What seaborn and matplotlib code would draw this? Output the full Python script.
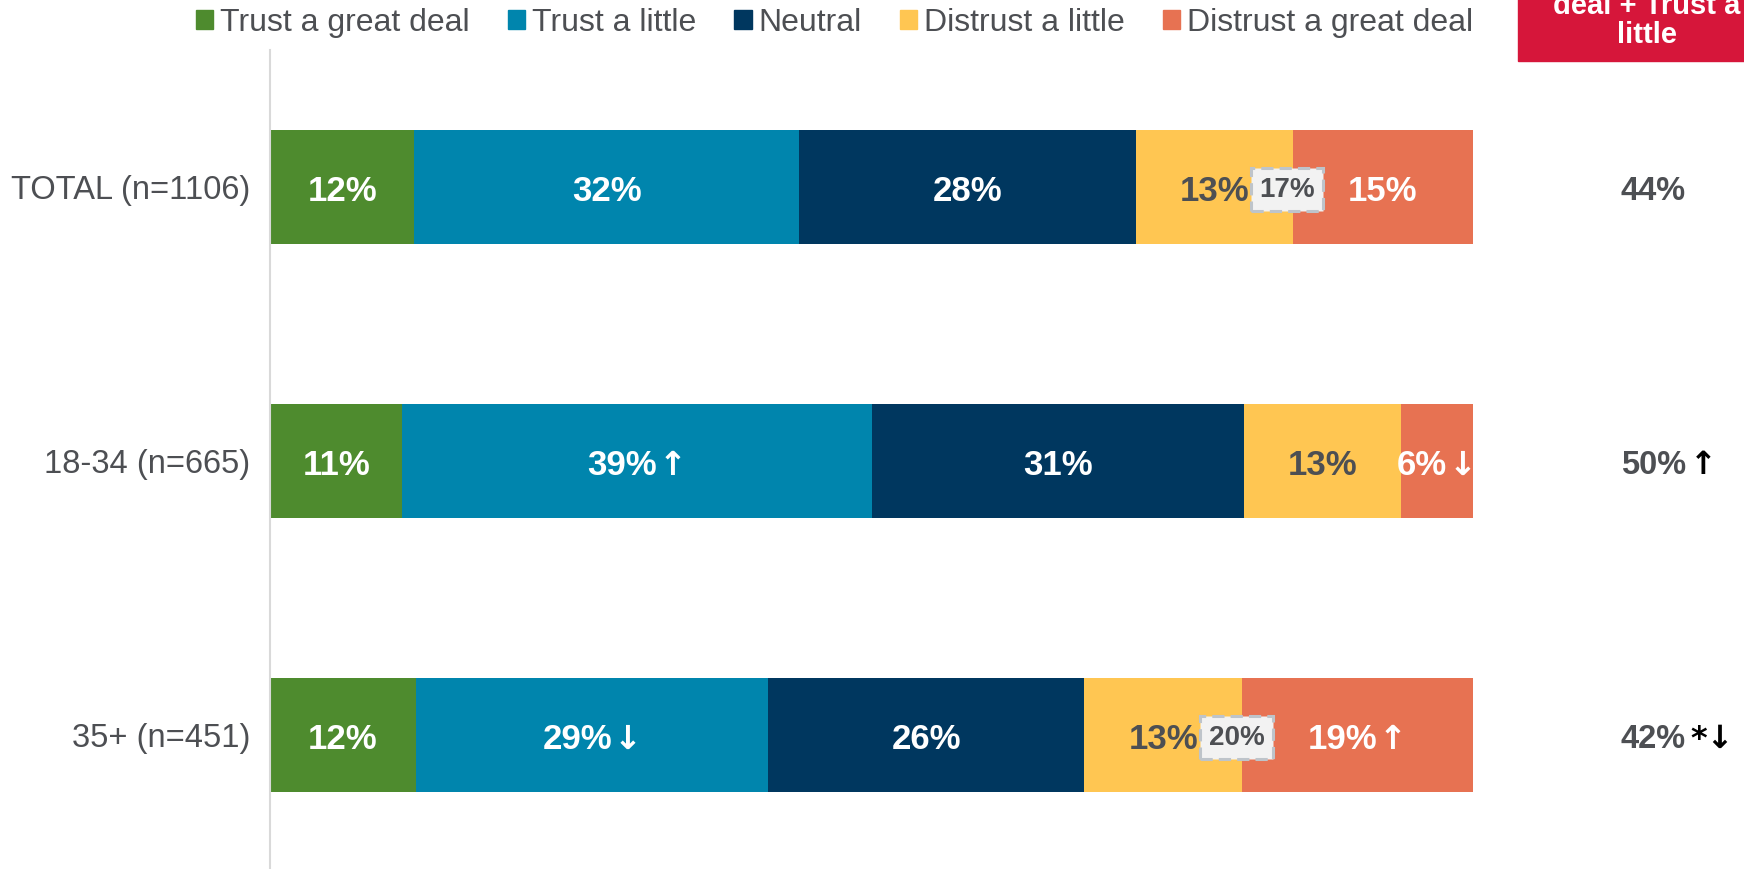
import matplotlib
matplotlib.use("Agg")
import matplotlib.pyplot as plt
from matplotlib.patches import Rectangle
from matplotlib.offsetbox import TextArea, HPacker, AnnotationBbox
import numpy as np
import pandas as pd
import seaborn as sns

# ---- data -------------------------------------------------------------
groups = ["TOTAL (n=1106)", "18-34 (n=665)", "35+ (n=451)"]
series = ["Trust a great deal", "Trust a little", "Neutral",
          "Distrust a little", "Distrust a great deal"]
trust_great = [12, 11, 12.1]
trust_little = [32, 39, 29.3]
neutral = [28, 31, 26.3]
distrust_little = [13, 13, 13.1]
distrust_great = [15, 6, 19.2]

# significance arrows attached to segment labels
trust_little_sig = ["", "↑", "↓"]
distrust_great_sig = ["", "↓", "↑"]

# dashed call-out figures at the distrust boundary
distrust_callout = ["17%", None, "20%"]

# net trust column (Trust a great deal + Trust a little)
net_trust = [44, 50, 42]
net_sig = ["", "↑", "*↓"]

colors = ["#4E8B2E", "#0085AD", "#00375F", "#FFC652", "#E77252"]
label_colors = ["white", "white", "white", "#4D4F53", "white"]
GRAY = "#4D4F53"

# ---- style ------------------------------------------------------------
sns.set_style("white")
FAM = ["Liberation Sans", "DejaVu Sans"]
plt.rcParams["font.family"] = FAM
DY = -3  # points: nudge labels so the digits sit visually centred

W, H = 1744, 869
fig = plt.figure(figsize=(W / 100, H / 100), dpi=100)
ax = fig.add_axes([270 / W, -0.0035, 1203 / W, 0.9459])

values = [trust_great, trust_little, neutral, distrust_little, distrust_great]
sigs = [[""] * 3, trust_little_sig, [""] * 3, [""] * 3, distrust_great_sig]

df = pd.DataFrame({"group": groups})
for name, vals in zip(series, values):
    df[name] = vals
cum = df[series].cumsum(axis=1)

# stacked bars: draw cumulative totals from the outermost segment inward
for i in reversed(range(len(series))):
    sns.barplot(data=pd.DataFrame({"group": groups, "end": cum[series[i]]}),
                x="end", y="group", orient="h", color=colors[i],
                saturation=1, width=0.416, linewidth=0, ax=ax)

ax.set_xlim(0, 100)
ax.set_ylim(2.5, -0.5)
ax.set_xlabel("")
ax.set_ylabel("")
ax.set_xticks([])
for s in ["top", "right", "bottom"]:
    ax.spines[s].set_visible(False)
ax.spines["left"].set_color("#D9D9D9")
ax.spines["left"].set_linewidth(1.5)
ax.tick_params(axis="y", length=0, pad=14, labelsize=23.5, labelcolor=GRAY)


def arrow_props(color, size):
    return dict(family="DejaVu Sans", fontweight="bold", color=color,
                fontsize=size)


# segment labels
for r in range(len(groups)):
    for i, name in enumerate(series):
        v = df.loc[r, name]
        centre = cum.loc[r, name] - v / 2
        num_props = dict(fontsize=25, fontweight="bold",
                         color=label_colors[i], family=FAM)
        parts = [TextArea(f"{round(v)}%", textprops=num_props)]
        if sigs[i][r]:
            parts.append(TextArea(sigs[i][r],
                                  textprops=arrow_props(label_colors[i], 24)))
        box = HPacker(children=parts, pad=0, sep=1, align="baseline")
        ab = AnnotationBbox(box, (centre, r), xybox=(0, DY),
                            boxcoords="offset points", frameon=False,
                            box_alignment=(0.5, 0.5), pad=0)
        ax.add_artist(ab)
    if distrust_callout[r]:
        edge = cum.loc[r, "Distrust a little"]
        ax.annotate(distrust_callout[r], xy=(edge, r), xytext=(-4, DY + 1),
                    textcoords="offset points", ha="center", va="center",
                    fontsize=20, fontweight="bold", color=GRAY,
                    bbox=dict(boxstyle="square,pad=0.3", fc="#F2F2F2",
                              ec="#BEC4CA", ls=(0, (4, 2)), lw=2.2))

# net trust column
for r in range(len(groups)):
    t = ax.annotate(f"{net_trust[r]}%", xy=(115, r), xytext=(0, DY),
                    textcoords="offset points", ha="center", va="center",
                    fontsize=23.5, fontweight="bold", color=GRAY,
                    annotation_clip=False)
    if net_sig[r]:
        ax.annotate(net_sig[r], xy=(1, 0.5), xycoords=t, xytext=(3, 0),
                    textcoords="offset points", ha="left", va="center",
                    **arrow_props("black", 23))

# header box for the net column
fig.patches.append(Rectangle((1518 / W, 1 - 61 / H), 270 / W, 0.2,
                             transform=fig.transFigure, color="#D6163A",
                             zorder=0))
fig.text(1647 / W, 1 - 6 / H, "Trust a great\ndeal + Trust a\nlittle",
         ha="center", va="center", color="white", fontsize=21,
         fontweight="bold", linespacing=1.05)

# legend
handles = [Rectangle((0, 0), 1, 1, color=c) for c in colors]
fig.legend(handles, series, loc="center right",
           bbox_to_anchor=(1473 / W, 1 - 23 / H), ncol=5, frameon=False,
           fontsize=23, labelcolor=GRAY, handlelength=0.55, handleheight=0.55,
           handletextpad=0.2, columnspacing=1.2, borderpad=0, borderaxespad=0)

fig.savefig("out.png", dpi=100)
